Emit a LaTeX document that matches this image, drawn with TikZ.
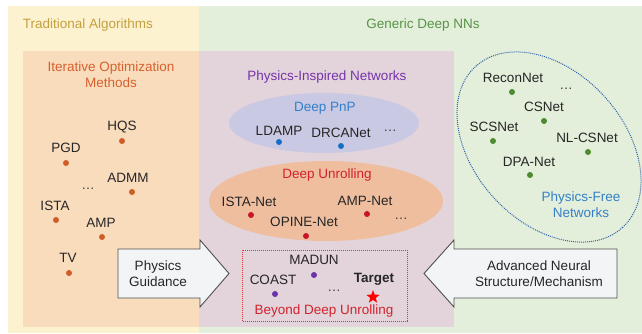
\documentclass[tikz,border=0pt]{standalone}
\usepackage{fontspec}
\setmainfont{Liberation Sans}
\usetikzlibrary{shapes.geometric}

\definecolor{bgyellow}{RGB}{253,242,208}
\definecolor{bggreen}{RGB}{227,239,218}
\definecolor{bgorange}{RGB}{249,220,188}
\definecolor{bgpink}{RGB}{227,212,220}
\definecolor{pnpfill}{RGB}{201,201,227}
\definecolor{unrollfill}{RGB}{239,190,159}
\definecolor{arrowfill}{RGB}{243,244,246}
\definecolor{arrowline}{RGB}{80,80,80}
\definecolor{txtgold}{RGB}{196,160,62}
\definecolor{txtgreen}{RGB}{88,148,70}
\definecolor{txtorange}{RGB}{214,96,46}
\definecolor{txtpurple}{RGB}{118,52,168}
\definecolor{txtblue}{RGB}{52,128,200}
\definecolor{txtred}{RGB}{210,34,44}
\definecolor{dotorange}{RGB}{208,92,38}
\definecolor{dotblue}{RGB}{22,110,200}
\definecolor{dotred}{RGB}{200,20,40}
\definecolor{dotpurple}{RGB}{108,50,168}
\definecolor{dotgreen}{RGB}{78,138,50}
\definecolor{freeline}{RGB}{50,100,170}
\definecolor{boxline}{RGB}{220,50,60}

\begin{document}
\begin{tikzpicture}[x=1pt,y=1pt,
  every node/.style={inner sep=0pt, font=\fontsize{13.5}{16}\selectfont},
  lbl/.style={text=black!85},
  head/.style={align=center},
  dotmark/.style={circle, minimum size=6pt, inner sep=0pt},
  ellip/.style={anchor=base, text=black!75},
  blockarrow/.style={fill=arrowfill, draw=arrowline, line width=0.9pt, line join=miter}
]
\useasboundingbox (0,0) rectangle (642,333);
\fill[white] (0,0) rectangle (642,333);

% Background regions
\fill[bgyellow] (8,0) rectangle (199,327);
\fill[bggreen] (199,0) rectangle (642,327);
\fill[bgorange] (23,6) rectangle (199,282);
\fill[bgpink] (199,6) rectangle (454,282);

% Region titles
\node[head, text=txtgold] (trad) at (88,308) {Traditional Algorithms};
\node[head, text=txtgreen] (generic) at (423,308) {Generic Deep NNs};
\node[head, text=txtorange] (iter) at (111,258.5) {Iterative Optimization\\Methods};
\node[head, text=txtpurple] (phys) at (327,256) {Physics-Inspired Networks};

% Iterative optimization methods
\node[lbl] (hqs) at (122,206) {HQS};
\node[dotmark, fill=dotorange] (hqsd) at (122,192) {};
\node[lbl] (pgd) at (66,185) {PGD};
\node[dotmark, fill=dotorange] (pgdd) at (66,170) {};
\node[ellip] (iterdots) at (88,144) {…};
\node[lbl] (admm) at (128,155) {ADMM};
\node[dotmark, fill=dotorange] (admmd) at (132,141) {};
\node[lbl] (ista) at (55,127) {ISTA};
\node[dotmark, fill=dotorange] (istad) at (56,113) {};
\node[lbl] (amp) at (101,110) {AMP};
\node[dotmark, fill=dotorange] (ampd) at (102,96) {};
\node[lbl] (tv) at (68,75) {TV};
\node[dotmark, fill=dotorange] (tvd) at (69,60) {};

% Deep PnP
\fill[pnpfill] (324,210) ellipse [x radius=95, y radius=30];
\node[text=txtblue] (pnp) at (325,225) {Deep PnP};
\node[lbl] (ldamp) at (279,202) {LDAMP};
\node[dotmark, fill=dotblue] (ldampd) at (279,191) {};
\node[lbl] (drca) at (341,200) {DRCANet};
\node[dotmark, fill=dotblue] (drcad) at (341,187) {};
\node[ellip] (pnpdots) at (390,202) {…};

% Deep Unrolling
\fill[unrollfill] (326,132) ellipse [x radius=117, y radius=40];
\node[text=txtred] (unroll) at (327,158) {Deep Unrolling};
\node[lbl] (istanet) at (249,131) {ISTA-Net};
\node[dotmark, fill=dotred] (istanetd) at (251,118) {};
\node[lbl] (opine) at (304,111) {OPINE-Net};
\node[dotmark, fill=dotred] (opined) at (306,97) {};
\node[lbl] (ampnet) at (365,132) {AMP-Net};
\node[dotmark, fill=dotred] (ampnetd) at (367,119) {};
\node[ellip] (unrolldots) at (401,114) {…};

% Beyond deep unrolling
\draw[boxline, densely dotted, line width=1pt] (242,12) rectangle (407,83);
\node[lbl] (madun) at (314,73) {MADUN};
\node[dotmark, fill=dotpurple] (madund) at (314,58) {};
\node[lbl] (coast) at (273,53) {COAST};
\node[dotmark, fill=dotpurple] (coastd) at (275,39) {};
\node[ellip] (beyonddots) at (334,42) {…};
\node[lbl, font=\fontsize{13.5}{16}\selectfont\bfseries] (target) at (374,54) {Target};
\node[star, star points=5, star point ratio=2.4, fill=red, minimum size=14pt, inner sep=0pt] (targetstar) at (373,36) {};
\node[text=txtred] (beyond) at (324,22) {Beyond Deep Unrolling};

% Physics-free networks
\draw[freeline, densely dotted, line width=1pt, rotate around={-47.6:(549,186)}]
  (549,186) ellipse [x radius=109, y radius=75];
\node[lbl] (recon) at (513,255) {ReconNet};
\node[dotmark, fill=dotgreen] (recond) at (512,241) {};
\node[lbl] (csnet) at (544,226) {CSNet};
\node[dotmark, fill=dotgreen] (csnetd) at (544,212) {};
\node[ellip] (freedots) at (566,244) {…};
\node[lbl] (scsnet) at (494,206) {SCSNet};
\node[dotmark, fill=dotgreen] (scsnetd) at (493,192) {};
\node[lbl] (nlcs) at (587,195) {NL-CSNet};
\node[dotmark, fill=dotgreen] (nlcsd) at (588,181) {};
\node[lbl] (dpa) at (529,171) {DPA-Net};
\node[dotmark, fill=dotgreen] (dpad) at (530,158) {};
\node[head, text=txtblue] (free) at (581,128.5) {Physics-Free\\Networks};

% Block arrows
\draw[blockarrow] (118,84) -- (200,84) -- (200,93) -- (229,59.5) -- (200,26) -- (200,35) -- (118,35) -- cycle;
\node[head, lbl] (guide) at (158,59.5) {Physics\\Guidance};
\draw[blockarrow] (617,84) -- (454,84) -- (454,93) -- (424,59.5) -- (454,26) -- (454,35) -- (617,35) -- cycle;
\node[head, lbl] (adv) at (539,59.5) {Advanced Neural\\Structure/Mechanism};
\end{tikzpicture}
\end{document}
